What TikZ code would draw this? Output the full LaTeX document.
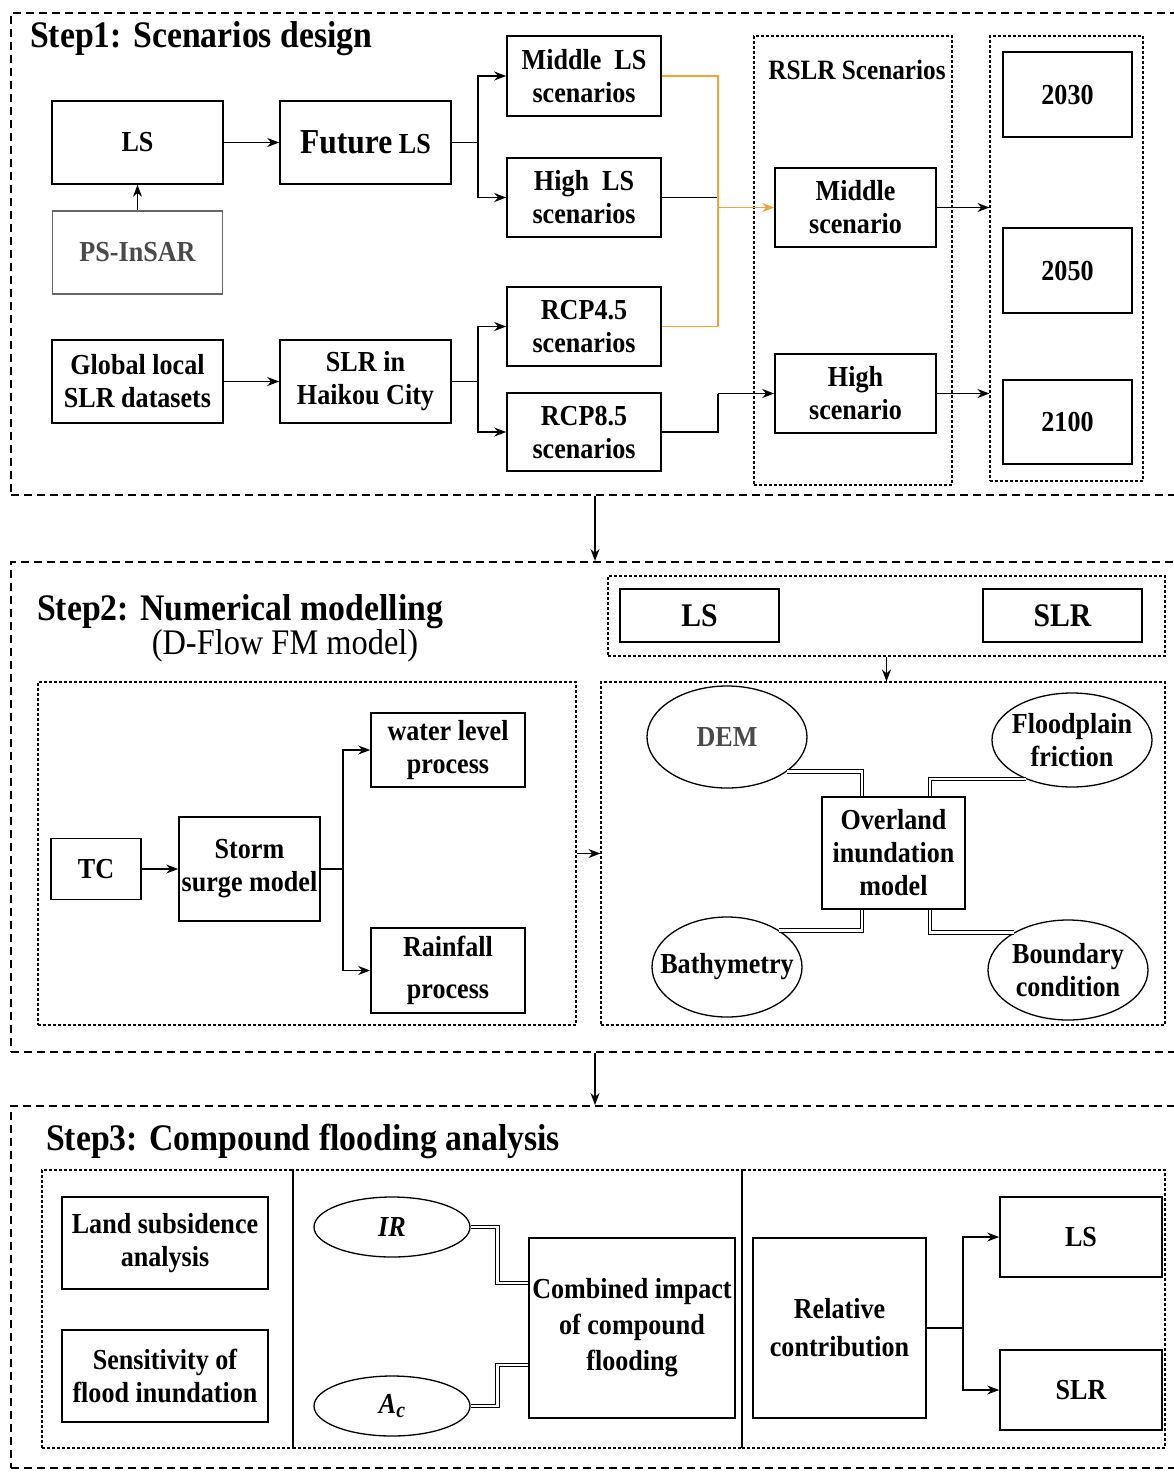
\documentclass[tikz,border=0pt]{standalone}
\usepackage{fontspec}
\setmainfont[FakeStretch=0.9]{Liberation Serif}
\usetikzlibrary{arrows.meta,shapes.geometric}
\definecolor{orng}{HTML}{F5A23A}
\definecolor{gtxt}{HTML}{4A4A4A}
\tikzset{
  box/.style={draw, line width=1.6pt, align=center, inner sep=1pt, font=\fontsize{29}{33}\selectfont\bfseries},
  ell/.style={draw, ellipse, line width=1.3pt, align=center, inner sep=-25pt, font=\fontsize{29}{33}\selectfont\bfseries},
  ibox/.style={draw, dash pattern=on 3pt off 2pt, line width=1.1pt},
  obox/.style={draw, dash pattern=on 8pt off 5pt, line width=2pt},
  arr/.style={-{Stealth[length=12pt,width=9pt]}, line width=1.4pt},
  ln/.style={line width=1.4pt},
  dbl/.style={double, double distance=2.4pt, line width=1.1pt},
  ttl/.style={anchor=base west, inner sep=0pt, font=\fontsize{37.5}{40}\selectfont\bfseries},
  wh/.style 2 args={minimum width=#1, minimum height=#2},
}
\begin{document}
\begin{tikzpicture}[x=1pt,y=-1pt]
\useasboundingbox (0,0) rectangle (1174,1476);
\clip (0,0) rectangle (1174,1476);
\fill[white] (0,0) rectangle (1174,1476);

% ---------------- Step 1 ----------------
\node[obox, wh={1168}{482}] (s1) at (595,254) {};
\node[ttl] (t1) at (30,47) {Step1: Scenarios design};
\node[box, wh={171}{83}] (ls) at (137.5,142.5) {LS};
\node[box, wh={171}{83}] (fls) at (365.5,142.5) {{\fontsize{35}{35}\selectfont Future} LS};
\node[box, draw=gray!80!black, text=gtxt, wh={170}{83}] (ps) at (137.5,252.5) {PS-InSAR};
\node[box, wh={171}{83}] (gl) at (137.5,381.5) {Global local\\SLR datasets};
\node[box, wh={171}{83}] (sh) at (365.5,381.5) {SLR in\\Haikou City};
\node[box, wh={154}{80}] (mls) at (584,76) {Middle~~LS\\scenarios};
\node[box, wh={154}{79}] (hls) at (584,197.5) {High~~LS\\scenarios};
\node[box, wh={154}{79}] (r45) at (584,326.5) {RCP4.5\\scenarios};
\node[box, wh={154}{78}] (r85) at (584,432) {RCP8.5\\scenarios};
\node[ibox, wh={198}{449}] (rb) at (853,260.5) {};
\node[font=\fontsize{28}{30}\selectfont\bfseries, inner sep=0pt] (rt) at (857,70) {RSLR Scenarios};
\node[box, wh={161}{79}] (ms) at (855.5,207.5) {Middle\\scenario};
\node[box, wh={161}{79}] (hs) at (855.5,393.5) {High\\scenario};
\node[ibox, wh={153}{445}] (yb) at (1066.5,258.5) {};
\node[box, wh={129}{85}] (y1) at (1067.5,94.5) {2030};
\node[box, wh={129}{85}] (y2) at (1067.5,270.5) {2050};
\node[box, wh={129}{84}] (y3) at (1067.5,422) {2100};
\coordinate (ja) at (478,0);
\coordinate (ox) at (718,0);
\draw[arr] (ps.north) -- (ls.south);
\draw[arr] (ls) -- (fls);
\draw[ln] (fls.east) -- (ja |- fls.east);
\draw[arr] (ja |- fls.east) |- (mls.west);
\draw[arr] (ja |- fls.east) |- (hls.west);
\draw[arr] (gl) -- (sh);
\draw[ln] (sh.east) -- (ja |- sh.east);
\draw[arr] (ja |- sh.east) |- (r45.west);
\draw[arr] (ja |- sh.east) |- (r85.west);
\draw[ln] (hls.east) -- (ox |- hls.east);
\draw[ln, orng] (mls.east) -| (ox |- r45.east) -- (r45.east);
\draw[arr, orng] (ox |- ms.west) -- (ms.west);
\draw[ln] (r85.east) -| (ox |- hs.west);
\draw[arr] (ox |- hs.west) -- (hs.west);
\draw[arr] (ms.east) -- (ms.east -| yb.west);
\draw[arr] (hs.east) -- (hs.east -| yb.west);

% ---------------- Step 2 ----------------
\node[obox, wh={1168}{490}] (s2) at (595,807) {};
\draw[arr] (s1.south) -- (s2.north);
\node[ttl] (t2) at (37,620) {Step2: Numerical modelling};
\node[font=\fontsize{36}{40}\selectfont, inner sep=0pt] (t2b) at (285,646) {(D-Flow FM model)};
\node[ibox, wh={538}{343}] (lb) at (307,853.5) {};
\node[ibox, wh={564}{343}] (rbx) at (883,853.5) {};
\node[ibox, wh={557}{80}] (ib) at (886.5,616) {};
\node[box, line width=2.2pt, font=\fontsize{33}{36}\selectfont\bfseries, wh={159}{53}] (ls2) at (699.5,615.5) {LS};
\node[box, line width=2.2pt, font=\fontsize{33}{36}\selectfont\bfseries, wh={159}{53}] (slr2) at (1062.5,615.5) {SLR};
\node[box, wh={90}{61}] (tc) at (96,869) {TC};
\node[box, wh={141}{104}] (ssm) at (249.5,869) {Storm\\surge model};
\node[box, wh={154}{74}] (wl) at (448,750) {water level\\process};
\node[box, wh={154}{85}, font=\fontsize{29}{42}\selectfont\bfseries] (rf) at (448,970.5) {Rainfall\\process};
\coordinate (jb) at (343,0);
\draw[arr] (tc) -- (ssm);
\draw[ln] (ssm.east) -- (jb |- ssm.east);
\draw[arr] (jb |- ssm.east) |- (wl.west);
\draw[arr] (jb |- ssm.east) |- (rf.west);
\draw[arr] (lb) -- (rbx);
\draw[arr] (ib.south) -- (ib.south |- rbx.north);
\node[ell, text=gtxt, wh={160}{102}] (dem) at (727,737) {DEM};
\node[ell, wh={160}{94}] (ff) at (1072,740) {Floodplain\\friction};
\node[box, wh={143}{112}] (oim) at (893.5,853) {Overland\\inundation\\model};
\node[ell, wh={150}{100}] (bat) at (727,967) {Bathymetry};
\node[ell, wh={160}{100}] (bc) at (1068,970) {Boundary\\condition};
\draw[dbl] (dem.-30) -| ([xshift=-31.5pt]oim.north);
\draw[dbl] (ff.220) -| ([xshift=36.5pt]oim.north);
\draw[dbl] (bat.35) -| ([xshift=-31.5pt]oim.south);
\draw[dbl] (bc.145) -| ([xshift=36.5pt]oim.south);

% ---------------- Step 3 ----------------
\node[obox, wh={1168}{362}] (s3) at (595,1287) {};
\draw[arr] (s2.south) -- (s3.north);
\node[ttl] (t3) at (46,1150) {Step3: Compound flooding analysis};
\node[ibox, wh={251}{278}] (p1) at (167.5,1309) {};
\node[ibox, wh={449}{278}] (p2) at (517.5,1309) {};
\node[ibox, wh={423}{278}] (p3) at (953.5,1309) {};
\node[box, wh={206}{92}] (lsa) at (165,1243) {Land subsidence\\analysis};
\node[box, wh={206}{92}] (sfi) at (165,1376) {Sensitivity of\\flood inundation};
\node[ell, wh={156}{60}] (ir) at (392,1227) {\itshape IR};
\node[ell, wh={156}{60}] (ac) at (392,1406) {\itshape A\raisebox{-0.35ex}{\fontsize{22}{22}\selectfont c}};
\node[box, wh={206}{180}, font=\fontsize{29}{36}\selectfont\bfseries] (cif) at (632,1328) {Combined impact\\of compound\\flooding};
\node[box, wh={173}{180}, font=\fontsize{29}{38}\selectfont\bfseries] (rc) at (839.5,1328) {Relative\\contribution};
\node[box, wh={162}{80}] (ls3) at (1081,1237) {LS};
\node[box, wh={162}{80}] (slr3) at (1081,1390) {SLR};
\draw[dbl] (ir.east) -- ++(27,0) |- ([yshift=45pt]cif.west);
\draw[dbl] (ac.east) -- ++(27,0) |- ([yshift=-37pt]cif.west);
\draw[ln] (rc.east) -- ++(36,0) coordinate (jc);
\draw[arr] (jc) |- (ls3.west);
\draw[arr] (jc) |- (slr3.west);
\end{tikzpicture}
\end{document}
